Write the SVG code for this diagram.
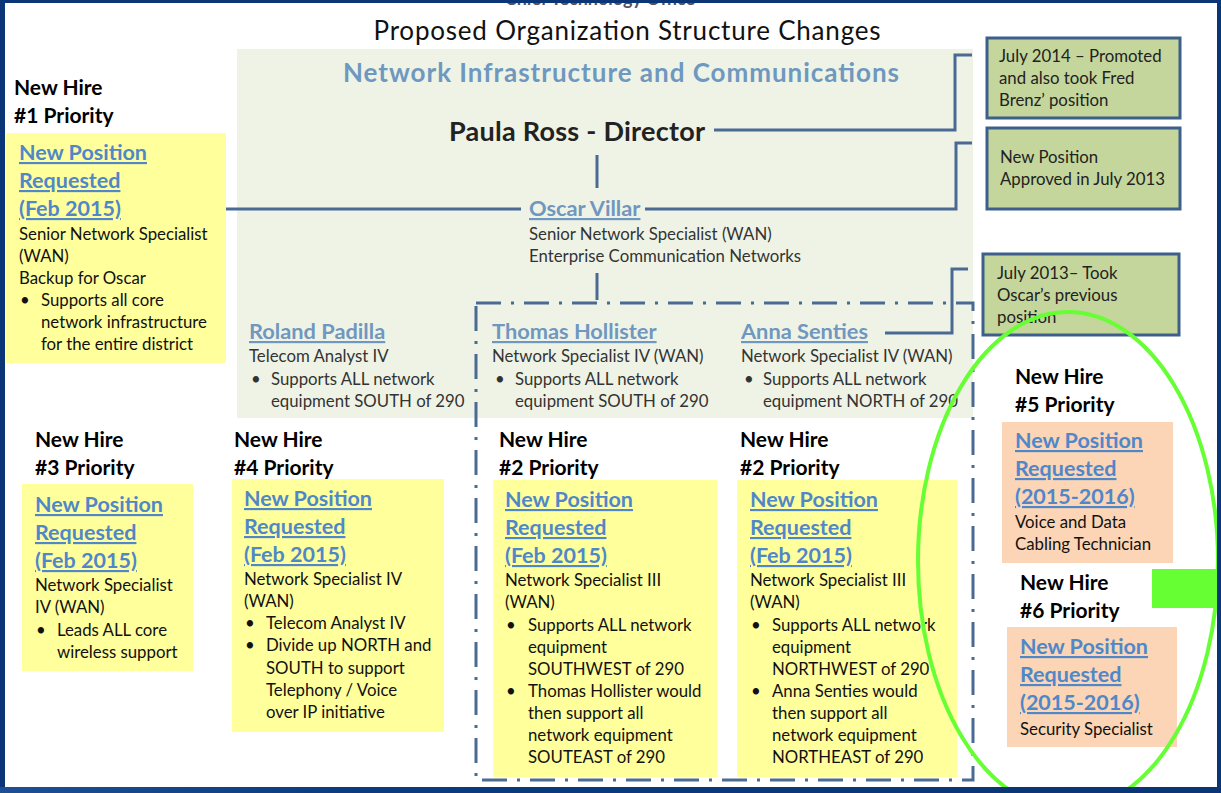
<svg xmlns="http://www.w3.org/2000/svg" width="1221" height="793" viewBox="0 0 1221 793">
<defs>
<linearGradient id="bot" x1="0" y1="0" x2="1" y2="0">
<stop offset="0" stop-color="#1c4f93"/><stop offset="0.3" stop-color="#0b3a7e"/><stop offset="1" stop-color="#0a3577"/>
</linearGradient>
<style>
text{font-family:Lato,"Open Sans","Liberation Sans",sans-serif}
.hire{font-size:21px;font-weight:bold;fill:#000}
.np{font-size:21.5px;font-weight:bold;fill:#4f87c9;text-decoration:underline}
.b{font-size:16.8px;fill:#111}
.pb{font-size:16.8px;fill:#333}
.name{font-size:21.8px;font-weight:bold;fill:#6f97bf;text-decoration:underline}
.note{font-size:16.8px;fill:#222}
.yel{fill:#ffff9c}
.peach{fill:#fbd5b5}
.gbox{fill:#c4d69b;stroke:#3d5f8c;stroke-width:3}
.con{fill:none;stroke:#4a6a93;stroke-width:3}
.dash{fill:none;stroke:#4a6a93;stroke-width:3;stroke-dasharray:25 10 3 10}
</style>
</defs>
<rect x="0" y="0" width="1221" height="793" fill="#ffffff"/>
<text x="600" y="5" text-anchor="middle" style="font-size:18px;font-weight:bold;fill:#555">Chief Technology Office</text>
<rect x="237" y="49" width="736" height="369" fill="#eff3e6"/>
<text x="627" y="40" text-anchor="middle" textLength="507" style="font-size:26px;fill:#111">Proposed Organization Structure Changes</text>
<text x="621" y="82" text-anchor="middle" textLength="556" style="font-size:26px;font-weight:bold;fill:#6e98c0">Network Infrastructure and Communications</text>

<g id="connectors">
<polyline class="con" points="714,130 955,130 955,55 972,55"/>
<polyline class="con" points="645,209 956,209 956,143 972,143"/>
<line class="con" x1="226" y1="209" x2="521" y2="209"/>
<line class="con" x1="597" y1="155" x2="597" y2="188"/>
<line class="con" x1="597" y1="273" x2="597" y2="300"/>
<polyline class="con" points="885,333 952,333 952,269 968,269"/>
</g>

<g id="paula">
<text x="449" y="141" textLength="256" style="font-size:27px;font-weight:bold;fill:#222">Paula Ross - Director</text>
</g>
<g id="oscar">
<text class="name" x="529" y="216">Oscar Villar</text>
<text class="pb" x="529" y="240">Senior Network Specialist (WAN)</text>
<text class="pb" x="529" y="262">Enterprise Communication Networks</text>
</g>
<g id="roland">
<text class="name" x="249" y="339">Roland Padilla</text>
<text class="pb" x="249" y="362">Telecom Analyst IV</text>
<text class="pb" x="251" y="385">•</text>
<text class="pb" x="271" y="385">Supports ALL network</text>
<text class="pb" x="271" y="407">equipment SOUTH of 290</text>
</g>
<g id="team-box">
<rect class="dash" x="476" y="303" width="497" height="477"/>
</g>
<g id="thomas">
<text class="name" x="492" y="339">Thomas Hollister</text>
<text class="pb" x="492" y="362">Network Specialist IV (WAN)</text>
<text class="pb" x="495" y="385">•</text>
<text class="pb" x="515" y="385">Supports ALL network</text>
<text class="pb" x="515" y="407">equipment SOUTH of 290</text>
</g>
<g id="anna">
<text class="name" x="741" y="339">Anna Senties</text>
<text class="pb" x="741" y="362">Network Specialist IV (WAN)</text>
<text class="pb" x="744" y="385">•</text>
<text class="pb" x="763" y="385">Supports ALL network</text>
<text class="pb" x="763" y="407">equipment NORTH of 290</text>
</g>

<g id="note1">
<rect class="gbox" x="987" y="38" width="193" height="80"/>
<text class="note" x="999" y="62">July 2014 – Promoted</text>
<text class="note" x="999" y="84">and also took Fred</text>
<text class="note" x="999" y="106">Brenz’ position</text>
</g>
<g id="note2">
<rect class="gbox" x="987" y="128" width="193" height="81"/>
<text class="note" x="1000" y="163">New Position</text>
<text class="note" x="1000" y="185">Approved in July 2013</text>
</g>
<g id="note3">
<rect class="gbox" x="983" y="254" width="196" height="81"/>
<text class="note" x="997" y="279">July 2013– Took</text>
<text class="note" x="997" y="301">Oscar’s previous</text>
<text class="note" x="997" y="323">position</text>
</g>

<g id="hire1">
<text class="hire" x="14" y="95">New Hire</text>
<text class="hire" x="14" y="123">#1 Priority</text>
<rect class="yel" x="6" y="133" width="220" height="230"/>
<text class="np" x="19" y="160">New Position</text>
<text class="np" x="19" y="188">Requested</text>
<text class="np" x="19" y="216">(Feb 2015)</text>
<text class="b" x="19" y="240">Senior Network Specialist</text>
<text class="b" x="19" y="262">(WAN)</text>
<text class="b" x="19" y="284">Backup for Oscar</text>
<text class="b" x="20" y="306">•</text>
<text class="b" x="41" y="306">Supports all core</text>
<text class="b" x="41" y="328">network infrastructure</text>
<text class="b" x="41" y="350">for the entire district</text>
</g>

<g id="hire3">
<text class="hire" x="35" y="447">New Hire</text>
<text class="hire" x="35" y="475">#3 Priority</text>
<rect class="yel" x="22" y="484" width="171" height="187"/>
<text class="np" x="35" y="512">New Position</text>
<text class="np" x="35" y="540">Requested</text>
<text class="np" x="35" y="568">(Feb 2015)</text>
<text class="b" x="35" y="591">Network Specialist</text>
<text class="b" x="35" y="613">IV (WAN)</text>
<text class="b" x="36" y="636">•</text>
<text class="b" x="57" y="636">Leads ALL core</text>
<text class="b" x="57" y="658">wireless support</text>
</g>

<g id="hire4">
<text class="hire" x="234" y="447">New Hire</text>
<text class="hire" x="234" y="475">#4 Priority</text>
<rect class="yel" x="232" y="479" width="212" height="253"/>
<text class="np" x="244" y="506">New Position</text>
<text class="np" x="244" y="534">Requested</text>
<text class="np" x="244" y="562">(Feb 2015)</text>
<text class="b" x="244" y="585">Network Specialist IV</text>
<text class="b" x="244" y="607">(WAN)</text>
<text class="b" x="245" y="629">•</text>
<text class="b" x="266" y="629">Telecom Analyst IV</text>
<text class="b" x="245" y="651">•</text>
<text class="b" x="266" y="651">Divide up NORTH and</text>
<text class="b" x="266" y="674">SOUTH to support</text>
<text class="b" x="266" y="696">Telephony / Voice</text>
<text class="b" x="266" y="718">over IP initiative</text>
</g>

<g id="hire2a">
<text class="hire" x="499" y="447">New Hire</text>
<text class="hire" x="499" y="475">#2 Priority</text>
<rect class="yel" x="493" y="480" width="224" height="297"/>
<text class="np" x="505" y="507">New Position</text>
<text class="np" x="505" y="535">Requested</text>
<text class="np" x="505" y="563">(Feb 2015)</text>
<text class="b" x="505" y="586">Network Specialist III</text>
<text class="b" x="505" y="608">(WAN)</text>
<text class="b" x="506" y="631">•</text>
<text class="b" x="528" y="631">Supports ALL network</text>
<text class="b" x="528" y="653">equipment</text>
<text class="b" x="528" y="675">SOUTHWEST of 290</text>
<text class="b" x="506" y="697">•</text>
<text class="b" x="528" y="697">Thomas Hollister would</text>
<text class="b" x="528" y="719">then support all</text>
<text class="b" x="528" y="741">network equipment</text>
<text class="b" x="528" y="763">SOUTEAST of 290</text>
</g>

<g id="hire2b">
<text class="hire" x="740" y="447">New Hire</text>
<text class="hire" x="740" y="475">#2 Priority</text>
<rect class="yel" x="737" y="480" width="220" height="297"/>
<text class="np" x="750" y="507">New Position</text>
<text class="np" x="750" y="535">Requested</text>
<text class="np" x="750" y="563">(Feb 2015)</text>
<text class="b" x="750" y="586">Network Specialist III</text>
<text class="b" x="750" y="608">(WAN)</text>
<text class="b" x="751" y="631">•</text>
<text class="b" x="772" y="631">Supports ALL network</text>
<text class="b" x="772" y="653">equipment</text>
<text class="b" x="772" y="675">NORTHWEST of 290</text>
<text class="b" x="751" y="697">•</text>
<text class="b" x="772" y="697">Anna Senties would</text>
<text class="b" x="772" y="719">then support all</text>
<text class="b" x="772" y="741">network equipment</text>
<text class="b" x="772" y="763">NORTHEAST of 290</text>
</g>

<g id="hire5">
<text class="hire" x="1015" y="384">New Hire</text>
<text class="hire" x="1015" y="412">#5 Priority</text>
<rect class="peach" x="1002" y="422" width="171" height="141"/>
<text class="np" x="1015" y="448">New Position</text>
<text class="np" x="1015" y="476">Requested</text>
<text class="np" x="1015" y="504">(2015-2016)</text>
<text class="b" x="1015" y="528">Voice and Data</text>
<text class="b" x="1015" y="550">Cabling Technician</text>
</g>

<g id="hire6">
<text class="hire" x="1020" y="590">New Hire</text>
<text class="hire" x="1020" y="618">#6 Priority</text>
<rect class="peach" x="1007" y="627" width="170" height="120"/>
<text class="np" x="1020" y="654">New Position</text>
<text class="np" x="1020" y="682">Requested</text>
<text class="np" x="1020" y="710">(2015-2016)</text>
<text class="b" x="1020" y="735">Security Specialist</text>
</g>

<g id="highlight">
<ellipse cx="1068" cy="561" rx="150" ry="249" fill="none" stroke="#66ff33" stroke-width="4"/>
<rect x="1152" y="569" width="66" height="39" fill="#66ff33"/>
</g>

<g id="frame">
<rect x="0" y="0" width="1221" height="3" fill="#0a3577"/>
<rect x="0" y="0" width="5" height="793" fill="#0a3577"/>
<rect x="1217" y="0" width="4" height="793" fill="#0a3577"/>
<rect x="0" y="787" width="1221" height="6" fill="url(#bot)"/>
</g>
</svg>
